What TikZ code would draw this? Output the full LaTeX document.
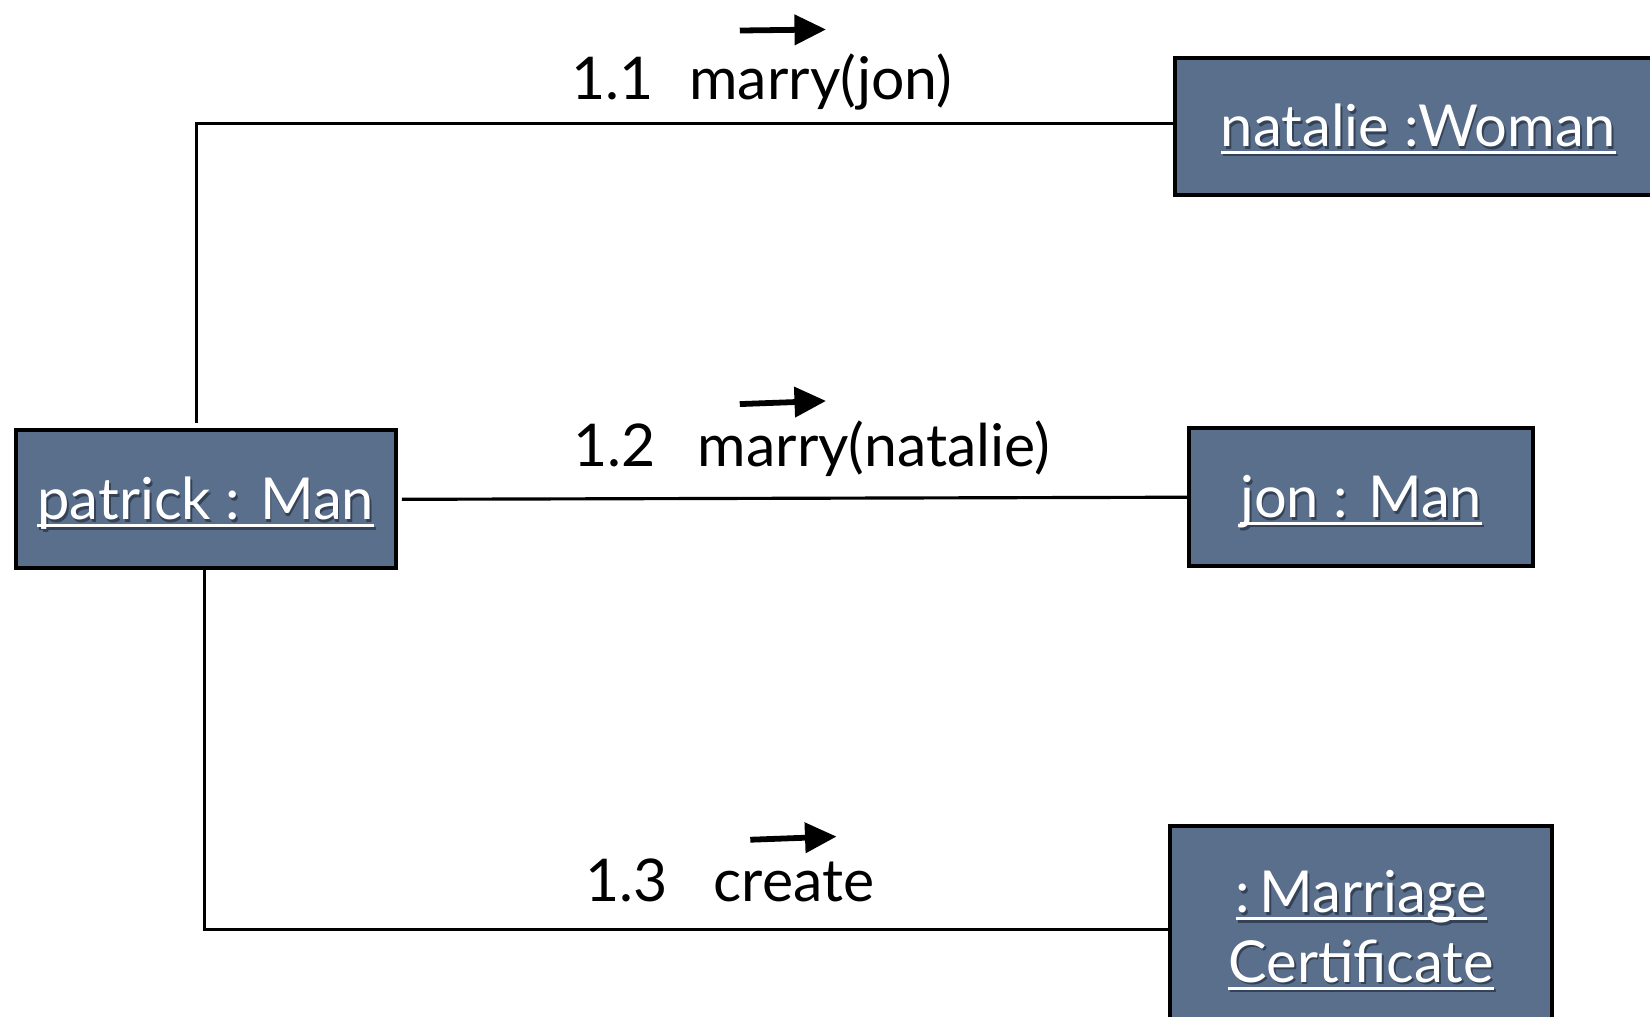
\documentclass[tikz,border=0pt]{standalone}
\usepackage{fontspec}
\setmainfont{Lato}
\usetikzlibrary{arrows.meta}

\definecolor{objfill}{RGB}{90,111,140}
\definecolor{objshade}{RGB}{52,66,88}

% white underlined object name with a soft dark drop shadow
\newcommand\ulword[1]{\setbox0\hbox{#1}\rlap{\rule[-7pt]{\wd0}{2.6pt}}\box0}
\newcommand\objtext[1]{%
  \setbox2\hbox{\color{white}\ulword{#1}}%
  \rlap{\raisebox{-2.2pt}{\kern1.8pt\color{objshade}\ulword{#1}}}\box2}

\tikzset{
  objbox/.style={draw=black, line width=3.8pt, fill=objfill, inner sep=0pt,
    font=\fontsize{55}{70}\selectfont, align=center},
  oneline/.style={text height=48pt, text depth=9pt},
  link/.style={draw=black, line width=3pt},
  msglabel/.style={anchor=base west, inner sep=0pt,
    font=\fontsize{56}{66}\selectfont},
  msgarrow/.style={line width=5.5pt, -{Triangle[length=30pt,width=28pt]}},
}

\begin{document}
\begin{tikzpicture}[x=1pt,y=-1pt]
  \useasboundingbox (0,0) rectangle (1568,966);

  % objects
  \node[objbox, oneline, minimum width=361pt, minimum height=131pt] (patrick) at (195.5,474.5)
    {\objtext{patrick : Man}};
  \node[objbox, oneline, minimum width=462pt, minimum height=130pt] (natalie) at (1348,120)
    {\objtext{natalie :Woman}};
  \node[objbox, oneline, minimum width=327pt, minimum height=131pt] (jon) at (1293.5,472.5)
    {\objtext{jon : Man}};
  \node[objbox, minimum width=363pt, minimum height=200pt] (cert) at (1293.5,885)
    {\objtext{:\,Marriage}\\[-4pt]\objtext{Certificate}};

  % links
  \draw[link] ([xshift=-9pt,yshift=5pt]patrick.north) |- ([yshift=3pt]natalie.west);
  \draw[link] ([xshift=4pt]patrick.east) -- (jon.west);
  \draw[link] ([xshift=-1pt]patrick.south) |- ([yshift=2pt]cert.west);

  % messages
  \node[msglabel] (n11) at (543,95) {1.1};
  \node[msglabel] (m11) at (655,95) {marry(jon)};
  \coordinate (a11s) at (703,29);
  \coordinate (a11e) at (785,28);
  \draw[msgarrow] (a11s) -- (a11e);

  \node[msglabel] (n12) at (545,443) {1.2};
  \node[msglabel] (m12) at (663,443) {marry(natalie)};
  \coordinate (a12s) at (703,384);
  \coordinate (a12e) at (785,381);
  \draw[msgarrow] (a12s) -- (a12e);

  \node[msglabel] (n13) at (556,857) {1.3};
  \node[msglabel] (m13) at (678,857) {create};
  \coordinate (a13s) at (713,798);
  \coordinate (a13e) at (795,795);
  \draw[msgarrow] (a13s) -- (a13e);
\end{tikzpicture}
\end{document}
